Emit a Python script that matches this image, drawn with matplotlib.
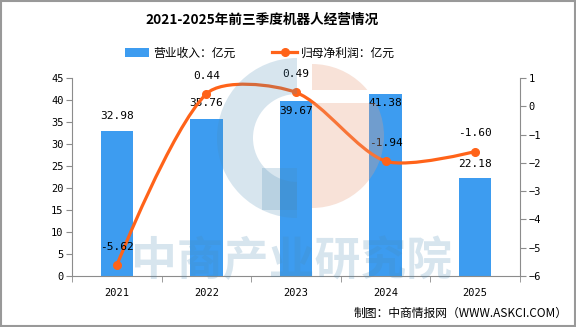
import numpy as np
import matplotlib
matplotlib.use("Agg")
import matplotlib.pyplot as plt
from matplotlib.path import Path
from matplotlib.patches import PathPatch, Wedge, Rectangle, Patch
from matplotlib.lines import Line2D

plt.rcParams['font.family'] = ['Noto Sans CJK SC', 'DejaVu Sans']

years = ['2021', '2022', '2023', '2024', '2025']
revenue = [32.98, 35.76, 39.67, 41.38, 22.18]     # 营业收入 亿元
net_profit = [-5.62, 0.44, 0.49, -1.94, -1.60]    # 归母净利润 亿元

title = '2021-2025年前三季度机器人经营情况'
bar_name = '营业收入：亿元'
line_name = '归母净利润：亿元'
source = '制图：中商情报网（WWW.ASKCI.COM）'

# label placement as in the source (px offset of label centre, + is up)
bar_label_dy = [15, 16, -10, -9, 14]
line_label_dy = [18, 18, 18, 18, 19]

BLUE = '#3d9cf0'
ORANGE = '#ff6319'
AXIS = '#8c8c8c'
MONO = 'DejaVu Sans Mono'

W, H = 576, 327
fig = plt.figure(figsize=(W / 100, H / 100), dpi=100)

def px(x0, y0, x1, y1):
    # pixel box (top-left origin) -> figure rect
    return [x0 / W, 1 - y1 / H, (x1 - x0) / W, (y1 - y0) / H]

ax = fig.add_axes(px(72, 78, 520, 276))
ax2 = ax.twinx()

x = np.arange(len(years))
ax.bar(x, revenue, width=0.36, color=BLUE, zorder=2)
ax.set_xlim(-0.5, len(years) - 0.5)
ax.set_ylim(0, 45)
ax.set_yticks(np.arange(0, 46, 5))
ax2.set_ylim(-6, 1)
ax2.set_yticks(np.arange(-6, 2, 1))
ax2.set_yticklabels([str(v).replace('-', '−') for v in range(-6, 2)])

ax.set_xticks(x)
ax.set_xticklabels(years, family=MONO)
ax.set_xticks(np.arange(-0.5, len(years), 1), minor=True)
ax.tick_params(axis='x', which='major', length=0, pad=9, labelsize=7.5)
ax.tick_params(axis='x', which='minor', length=4, color=AXIS)
ax.tick_params(axis='y', length=4, color=AXIS, labelsize=7.5, pad=2)
ax2.tick_params(axis='y', length=4, color=AXIS, labelsize=7.5, pad=2)
for lab in ax.get_yticklabels() + ax2.get_yticklabels():
    lab.set_family(MONO)

for a in (ax, ax2):
    a.spines['top'].set_visible(False)
    for s in ('left', 'right', 'bottom'):
        a.spines[s].set_color(AXIS)
ax.spines['right'].set_visible(False)
ax2.spines['left'].set_visible(False)
ax2.spines['bottom'].set_visible(False)
ax.patch.set_visible(False)

for xi, v, dy in zip(x, revenue, bar_label_dy):
    ax.annotate(f'{v:.2f}', (xi, v), xytext=(0, dy * 0.72), textcoords='offset points',
                ha='center', va='center', fontsize=8, family=MONO)

# smoothed line: bezier through the points, control points along
# (next - prev), split by segment length; end points are their own controls
pts = ax2.transData.transform(np.column_stack([x, net_profit]))
smooth = 0.28
n = len(pts)
cin = [pts[0].copy()]
cout = [pts[0].copy()]
for i in range(1, n - 1):
    p, prev, nxt = pts[i], pts[i - 1], pts[i + 1]
    v = (nxt - prev) * smooth
    d0 = np.hypot(*(p - prev))
    d1 = np.hypot(*(nxt - p))
    s = (d0 + d1) or 1
    cin.append(p - v * d0 / s)
    cout.append(p + v * d1 / s)
cin.append(pts[-1].copy())
verts = [pts[0]]
codes = [Path.MOVETO]
for i in range(n - 1):
    verts += [cout[i], cin[i + 1], pts[i + 1]]
    codes += [Path.CURVE4] * 3
verts = ax2.transData.inverted().transform(np.array(verts))
ax2.add_patch(PathPatch(Path(verts, codes), fill=False, edgecolor=ORANGE,
                        lw=2.3, zorder=3))
ax2.plot(x, net_profit, 'o', color=ORANGE, ms=5.5, zorder=4)
for xi, v, dy in zip(x, net_profit, line_label_dy):
    ax2.annotate(f'{v:.2f}', (xi, v), xytext=(0, dy * 0.72), textcoords='offset points',
                 ha='center', va='center', fontsize=8, family=MONO)

fig.text(262 / W, 1 - 20 / H, title, ha='center', va='center', fontsize=9.8,
         fontweight='bold')

handles = [Patch(facecolor=BLUE, edgecolor='none'),
           Line2D([], [], color=ORANGE, lw=2.3, marker='o', ms=5.5)]
fig.legend(handles, [bar_name, line_name], loc='center', ncol=2,
           bbox_to_anchor=(260 / W, 1 - 53 / H), frameon=False, fontsize=8.5,
           handlelength=2.1, handleheight=0.8, columnspacing=3.1,
           handletextpad=0.35)

fig.text(1 - 8 / W, 1 - 313 / H, source, ha='right', va='center', fontsize=8.5)

# watermark overlay
wm = fig.add_axes([0, 0, 1, 1], zorder=10)
wm.set_xlim(0, W)
wm.set_ylim(H, 0)
wm.axis('off')
wm.patch.set_visible(False)
wb, wp = '#4a8ab5', '#e8a080'
wm.add_patch(Wedge((297, 138), 80, 90, 270, width=36, facecolor=wb,
                   alpha=0.22, edgecolor='none'))
wm.add_patch(Rectangle((262, 168), 35, 42, facecolor=wb, alpha=0.22,
                       edgecolor='none'))
for y0, y1 in ((55, 90), (103, 215)):
    wp_patch = Wedge((312, 136), 72, -90, 90, facecolor=wp, alpha=0.3,
                     edgecolor='none')
    wm.add_patch(wp_patch)
    clip = Rectangle((300, y0), 100, y1 - y0, transform=wm.transData)
    wp_patch.set_clip_path(clip)
wm.text(292, 262, '中商产业研究院', ha='center', va='center', fontsize=33,
        fontweight='bold', color=wb, alpha=0.22)

wm.add_patch(Rectangle((1, 1), W - 2, H - 2, fill=False, edgecolor='#999999',
                       lw=1.5))

fig.savefig('out.png', dpi=100)
